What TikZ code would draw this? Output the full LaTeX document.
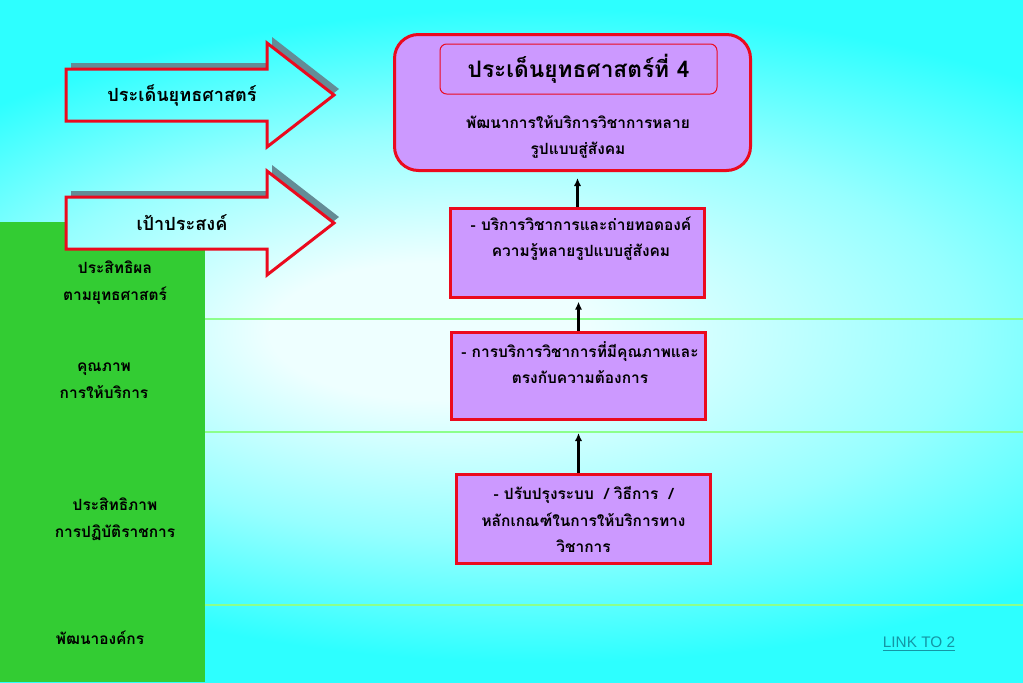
\documentclass[tikz,border=0pt]{standalone}
\usepackage{fontspec}
\newfontfamily\thai[Script=Thai]{Loma}
\newfontfamily\linkfont{Liberation Sans}
\usetikzlibrary{arrows.meta,positioning}
\definecolor{bgcyan}{RGB}{45,255,255}
\definecolor{bgmid}{RGB}{150,255,255}
\definecolor{bgglow}{RGB}{238,255,255}
\definecolor{colgreen}{RGB}{51,204,51}
\definecolor{rowline}{RGB}{140,255,140}
\definecolor{boxfill}{RGB}{204,153,255}
\definecolor{boxred}{RGB}{235,10,30}
\definecolor{arrshade}{RGB}{100,140,150}
\definecolor{linkcol}{RGB}{20,150,165}
\pgfdeclareradialshading{glow}{\pgfpoint{-9.4bp}{0.8bp}}{color(0bp)=(bgglow); color(5bp)=(bgglow); color(15bp)=(bgmid); color(24bp)=(bgcyan); color(50bp)=(bgcyan)}
\tikzset{
  arrowoutline/.style={insert path={(66,#1-26) -- (267,#1-26) -- (267,#1-52) -- (334,#1) -- (267,#1+52) -- (267,#1+26) -- (66,#1+26) -- cycle}},
  bgarea/.style={insert path={(-100,0) rectangle (1500,682)}},
  thaitxt/.style={font=\thai\bfseries\fontsize{11.6}{20}\selectfont, align=center, inner sep=0pt},
  box/.style={draw=boxred, line width=2.25pt, fill=boxfill, inner sep=0pt},
  link/.style={->, line width=1.8pt}
}

\begin{document}
\begin{tikzpicture}[x=0.75pt,y=-0.75pt,>={Latex[length=6pt,width=5.5pt]}]
	\useasboundingbox (0,0) rectangle (1023,682);
	\begin{scope}
		\clip (0,0) rectangle (1023,682);
		\shade[shading=glow, bgarea];
	\end{scope}
	\fill[colgreen] (0,222) rectangle (205,682);
	\foreach \ry in {319,432,605}
		\draw[rowline, line width=1.1pt] (205,\ry) -- (1023,\ry);

	\foreach \cy/\nm/\lbl in {95/head/ประเด็นยุทธศาสตร์, 223/goal/เป้าประสงค์}{
		\fill[arrshade, shift={(5,-6)}, arrowoutline=\cy];
		\begin{scope}
			\clip[arrowoutline=\cy];
			\shade[shading=glow, bgarea];
		\end{scope}
		\draw[boxred, line width=2.25pt, arrowoutline=\cy];
		\node[thaitxt, font=\thai\bfseries\fontsize{13.6}{20}\selectfont] (\nm) at (182,\cy) {\lbl};
	}

	\node[thaitxt] (c1) at (115,283) {ประสิทธิผล\\ตามยุทธศาสตร์};
	\node[thaitxt] (c2) at (104,381) {คุณภาพ\\การให้บริการ};
	\node[thaitxt] (c3) at (115,519) {ประสิทธิภาพ\\การปฏิบัติราชการ};
	\node[thaitxt] (c4) at (100,638) {พัฒนาองค์กร};

	\node[box, rounded corners=18pt, minimum width=267pt, minimum height=102pt] (top) at (572.5,102.5) {};
	\node[draw=boxred, line width=0.75pt, rounded corners=5pt, minimum width=207.75pt, minimum height=37.5pt, thaitxt, font=\thai\bfseries\fontsize{17}{20}\selectfont] (title) at (578.5,69) {ประเด็นยุทธศาสตร์ที่ 4};
	\node[thaitxt] (topt) at (578,137) {พัฒนาการให้บริการวิชาการหลาย\\รูปแบบสู่สังคม};

	\node[box, minimum width=190.5pt, minimum height=66.75pt] (b2) at (577.5,253) {};
	\node[thaitxt] (b2t) at (581,238.5) {- บริการวิชาการและถ่ายทอดองค์\\ความรู้หลายรูปแบบสู่สังคม};
	\node[box, minimum width=190.5pt, minimum height=65.25pt] (b3) at (578.5,376) {};
	\node[thaitxt] (b3t) at (580,362.5) {- การบริการวิชาการที่มีคุณภาพและ\\ตรงกับความต้องการ};
	\node[box, minimum width=190.5pt, minimum height=66.75pt] (b4) at (583.5,519) {};
	\node[thaitxt] (b4t) at (583.5,519.5) {- ปรับปรุงระบบ \ / วิธีการ \ /\\หลักเกณฑ์ในการให้บริการทาง\\วิชาการ};

	\path[link]
	(b2.north) edge[shorten >=4.5pt] (b2.north |- top.south)
	(b3.north) edge[shorten >=2pt] (b3.north |- b2.south)
	(b3.south |- b4.north) edge[shorten >=9pt] (b3.south);

	\node[font=\linkfont\fontsize{11.5}{14}\selectfont, text=linkcol] (lnk) at (919,644) {\underline{LINK TO 2}};
\end{tikzpicture}
\end{document}
